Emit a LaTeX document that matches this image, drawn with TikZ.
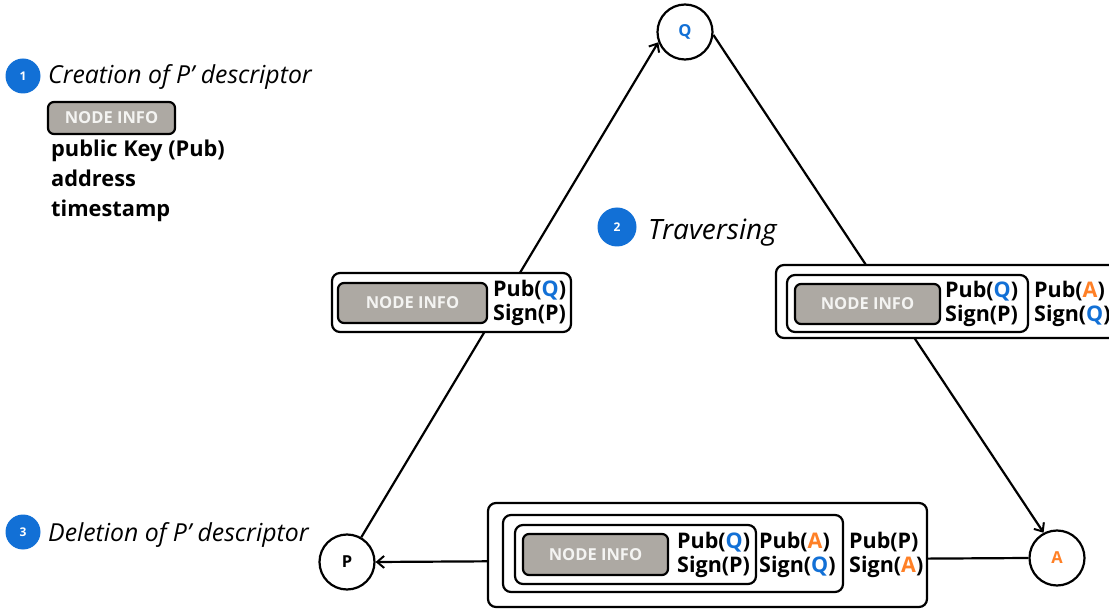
\documentclass[tikz,border=0pt]{standalone}
\usepackage{fontspec}
\setmainfont{Open Sans}
\usetikzlibrary{arrows.meta}
\definecolor{badgeblue}{RGB}{18,112,214}
\definecolor{peerorange}{RGB}{255,128,38}
\definecolor{infogray}{RGB}{173,169,163}
\definecolor{infotext}{RGB}{244,244,242}
\newcommand{\peerQ}{\textcolor{badgeblue}{Q}}
\newcommand{\peerA}{\textcolor{peerorange}{A}}
\tikzset{
  peer/.style={circle, draw, line width=2.2pt, minimum size=55pt, inner sep=0pt,
    font=\fontsize{16.5}{16.5}\selectfont\bfseries, fill=white},
  infobox/.style={draw, line width=2.2pt, rounded corners=6pt, fill=infogray,
    text=infotext, font=\fontsize{16.5}{16.5}\selectfont\bfseries, inner sep=0pt},
  wrapbox/.style={draw, line width=2.2pt, rounded corners=8pt, fill=white, inner sep=0pt},
  keys/.style={anchor=west, align=left, font=\fontsize{21.5}{24}\selectfont\bfseries, inner sep=0pt},
  badge/.style={circle, fill=badgeblue, text=white, minimum size=35pt, inner sep=0pt,
    font=\fontsize{12}{12}\selectfont\bfseries},
  heading/.style={anchor=base west, inner sep=0pt, font=\fontsize{24.8}{24.8}\selectfont\itshape},
  attr/.style={anchor=base west, inner sep=0pt, font=\fontsize{21.8}{21.8}\selectfont\bfseries},
  link/.style={line width=2.2pt, -{Straight Barb[length=7pt,width=12pt,line width=2pt]}},
}
\begin{document}
\begin{tikzpicture}[x=1pt,y=-1pt]
\clip (0,0) rectangle (1109,612);
\useasboundingbox (0,0) rectangle (1109,612);

% step 1: descriptor creation
\node[badge] (b1) at (23,76) {1};
\node[heading] (h1) at (48,84) {Creation of P’ descriptor};
\node[infobox, minimum width=127pt, minimum height=32pt] (info0) at (111.5,118) {NODE INFO};
\node[attr] (f1) at (51,157) {public Key (Pub)};
\node[attr] (f2) at (51,187) {address};
\node[attr] (f3) at (51,217) {timestamp};

% step 2 and 3 headings
\node[badge, minimum size=39pt] (b2) at (617,227) {2};
\node[heading, font=\fontsize{28}{28}\selectfont\itshape] (h2) at (648,240) {Traversing};
\node[badge] (b3) at (23,532) {3};
\node[heading] (h3) at (48,541) {Deletion of P’ descriptor};

% peers
\node[peer] (Q) at (685,32) {\peerQ};
\node[peer] (P) at (347,562) {P};
\node[peer] (A) at (1057,558) {\peerA};

% forwarding path
\draw[link] (P.60) -- (Q.201);
\draw[link] (Q.354) -- (A.118);
\draw[link] (A.west) -- (P.east);

% descriptor signed by P
\node[wrapbox, minimum width=239pt, minimum height=59pt] (d1) at (451.5,302.5) {};
\node[infobox, minimum width=149pt, minimum height=40pt] (i1) at (412.5,303) {NODE INFO};
\node[keys] (k1) at (493,303) {Pub(\peerQ)\\Sign(P)};

% descriptor signed again by Q
\node[wrapbox, minimum width=346pt, minimum height=73pt] (d2o) at (949,301.5) {};
\node[wrapbox, minimum width=241pt, minimum height=57pt] (d2i) at (907.5,303.5) {};
\node[infobox, minimum width=145pt, minimum height=40pt] (i2) at (867.5,304) {NODE INFO};
\node[keys] (k2a) at (945,304) {Pub(\peerQ)\\Sign(P)};
\node[keys] (k2b) at (1034,304) {Pub(\peerA)\\Sign(\peerQ)};

% descriptor signed again by A
\node[wrapbox, minimum width=439pt, minimum height=104pt] (d3o) at (707.5,555) {};
\node[wrapbox, minimum width=340pt, minimum height=77pt] (d3m) at (673,553.5) {};
\node[wrapbox, minimum width=241pt, minimum height=59pt] (d3i) at (635.5,554.5) {};
\node[infobox, minimum width=145pt, minimum height=41pt] (i3) at (595.5,554.5) {NODE INFO};
\node[keys] (k3a) at (677,555) {Pub(\peerQ)\\Sign(P)};
\node[keys] (k3b) at (759,555) {Pub(\peerA)\\Sign(\peerQ)};
\node[keys] (k3c) at (849,555) {Pub(P)\\Sign(\peerA)};
\end{tikzpicture}
\end{document}
